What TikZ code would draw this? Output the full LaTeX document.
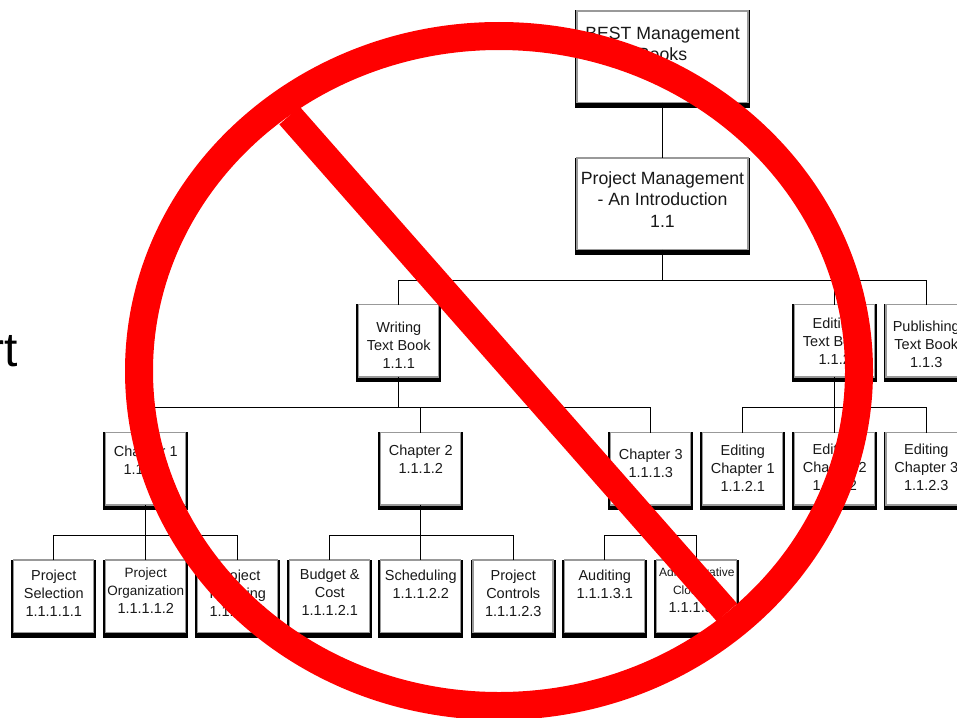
\documentclass[tikz,border=0pt]{standalone}
\usepackage{fontspec}
\setmainfont{Liberation Sans}
\usetikzlibrary{calc}
\definecolor{prohibit}{RGB}{255,0,0}
\tikzset{
  wbsface/.style={draw=black!40,fill=white,line width=1.5pt,inner sep=0pt,outer sep=0pt},
  wbsback/.style={fill=black,inner sep=0pt,outer sep=0pt},
  bigface/.style={wbsface,minimum width=171pt,minimum height=91.5pt},
  bigback/.style={wbsback,minimum width=175.5pt,minimum height=97pt},
  smallface/.style={wbsface,minimum width=80pt,minimum height=72.5pt},
  smallback/.style={wbsback,minimum width=85pt,minimum height=78pt},
  bigtext/.style={align=center,inner sep=0pt,text=black!90,font=\fontsize{17.7}{21.6}\selectfont},
  smalltext/.style={align=center,inner sep=0pt,text=black!90,font=\fontsize{14.5}{18}\selectfont},
  link/.style={draw=black,line width=1pt},
  ring/.style={draw=prohibit,line width=28pt},
  bar/.style={draw=prohibit,line width=27pt},
}
% name, size prefix, centre x, centre y, text centre y, text
\newcommand\wbsbox[6]{%
  \node[#2back] (#1back) at (#3,#4) {};
  \node[#2face] (#1) at (#3,#4-2.1) {};
  \node[#2text] (#1text) at (#3+0.25,#5) {#6};
}
\begin{document}
\begin{tikzpicture}[x=1pt,y=-1pt]
\useasboundingbox (0,0) rectangle (957,717);
\clip (0,0) rectangle (957,717);

\node[anchor=base east,inner sep=0pt,font=\fontsize{48}{48}\selectfont] (chart) at (18,366) {rt};

\wbsbox{best}{big}{662.25}{59}{44}{BEST Management\\Books}
\wbsbox{pm}{big}{662.25}{206}{199.5}{Project Management\\- An Introduction\\1.1}

\wbsbox{writing}{small}{398.5}{343}{345}{Writing\\Text Book\\1.1.1}
\wbsbox{editing}{small}{834.5}{343}{341.5}{Editing\\Text Book\\1.1.2}
\wbsbox{publishing}{small}{926}{343}{344}{Publishing\\Text Book\\1.1.3}

\wbsbox{chone}{small}{145.5}{471}{460}{Chapter 1\\1.1.1.1}
\wbsbox{chtwo}{small}{420.5}{471}{459}{Chapter 2\\1.1.1.2}
\wbsbox{chthree}{small}{650.5}{471}{463.5}{Chapter 3\\1.1.1.3}
\wbsbox{edone}{small}{742.5}{471}{468}{Editing\\Chapter 1\\1.1.2.1}
\wbsbox{edtwo}{small}{834.5}{471}{467}{Editing\\Chapter 2\\1.1.2.2}
\wbsbox{edthree}{small}{926}{471}{467}{Editing\\Chapter 3\\1.1.2.3}

\wbsbox{selection}{small}{53.5}{598.5}{593}{Project\\Selection\\1.1.1.1.1}
\wbsbox{organization}{small}{145.5}{598.5}{591}{\fontsize{13.5}{18}\selectfont Project\\\fontsize{13.5}{18}\selectfont Organization\\\fontsize{14.5}{18}\selectfont 1.1.1.1.2}
\wbsbox{planning}{small}{237.5}{598.5}{593}{Project\\Planning\\1.1.1.1.3}
\wbsbox{budget}{small}{329.5}{598.5}{592}{Budget \&\\Cost\\1.1.1.2.1}
\wbsbox{scheduling}{small}{420.5}{598.5}{584}{Scheduling\\1.1.1.2.2}
\wbsbox{controls}{small}{513}{598.5}{593}{Project\\Controls\\1.1.1.2.3}
\wbsbox{auditing}{small}{604.5}{598.5}{584}{Auditing\\1.1.1.3.1}
\wbsbox{closeout}{small}{696.5}{598.5}{590}{\fontsize{12}{18}\selectfont Administrative\\\fontsize{12}{18}\selectfont Closeout\\\fontsize{14.5}{18}\selectfont 1.1.1.3.2}

\coordinate (bustop) at (662.25,280);
\coordinate (buswrite) at (398.5,407);
\coordinate (busedit) at (834.5,407);
\coordinate (busone) at (145.5,535);
\coordinate (bustwo) at (420.5,535);
\coordinate (busthree) at (650.5,535);

\draw[link] (best.south) -- (pm.north);
\draw[link] (pm.south) -- (bustop);
\draw[link] (bustop) -| (writing.north);
\draw[link] (bustop) -| (editing.north);
\draw[link] (bustop) -| (publishing.north);

\draw[link] (writing.south) -- (buswrite);
\draw[link] (buswrite) -| (chone.north);
\draw[link] (buswrite) -| (chtwo.north);
\draw[link] (buswrite) -| (chthree.north);

\draw[link] (editing.south) -- (edtwo.north);
\draw[link] (busedit) -| (edone.north);
\draw[link] (busedit) -| (edthree.north);

\draw[link] (chone.south) -- (organization.north);
\draw[link] (busone) -| (selection.north);
\draw[link] (busone) -| (planning.north);

\draw[link] (chtwo.south) -- (scheduling.north);
\draw[link] (bustwo) -| (budget.north);
\draw[link] (bustwo) -| (controls.north);

\draw[link] (chthree.south) -- (busthree);
\draw[link] (busthree) -| (auditing.north);
\draw[link] (busthree) -| (closeout.north);

\coordinate (ringcentre) at (499,371);
\coordinate (barstart) at (289.5,115.5);
\coordinate (barend) at (727,612.5);
\draw[ring] (ringcentre) ellipse [x radius=360pt,y radius=335pt];
\draw[bar] (barstart) -- (barend);
\end{tikzpicture}
\end{document}
